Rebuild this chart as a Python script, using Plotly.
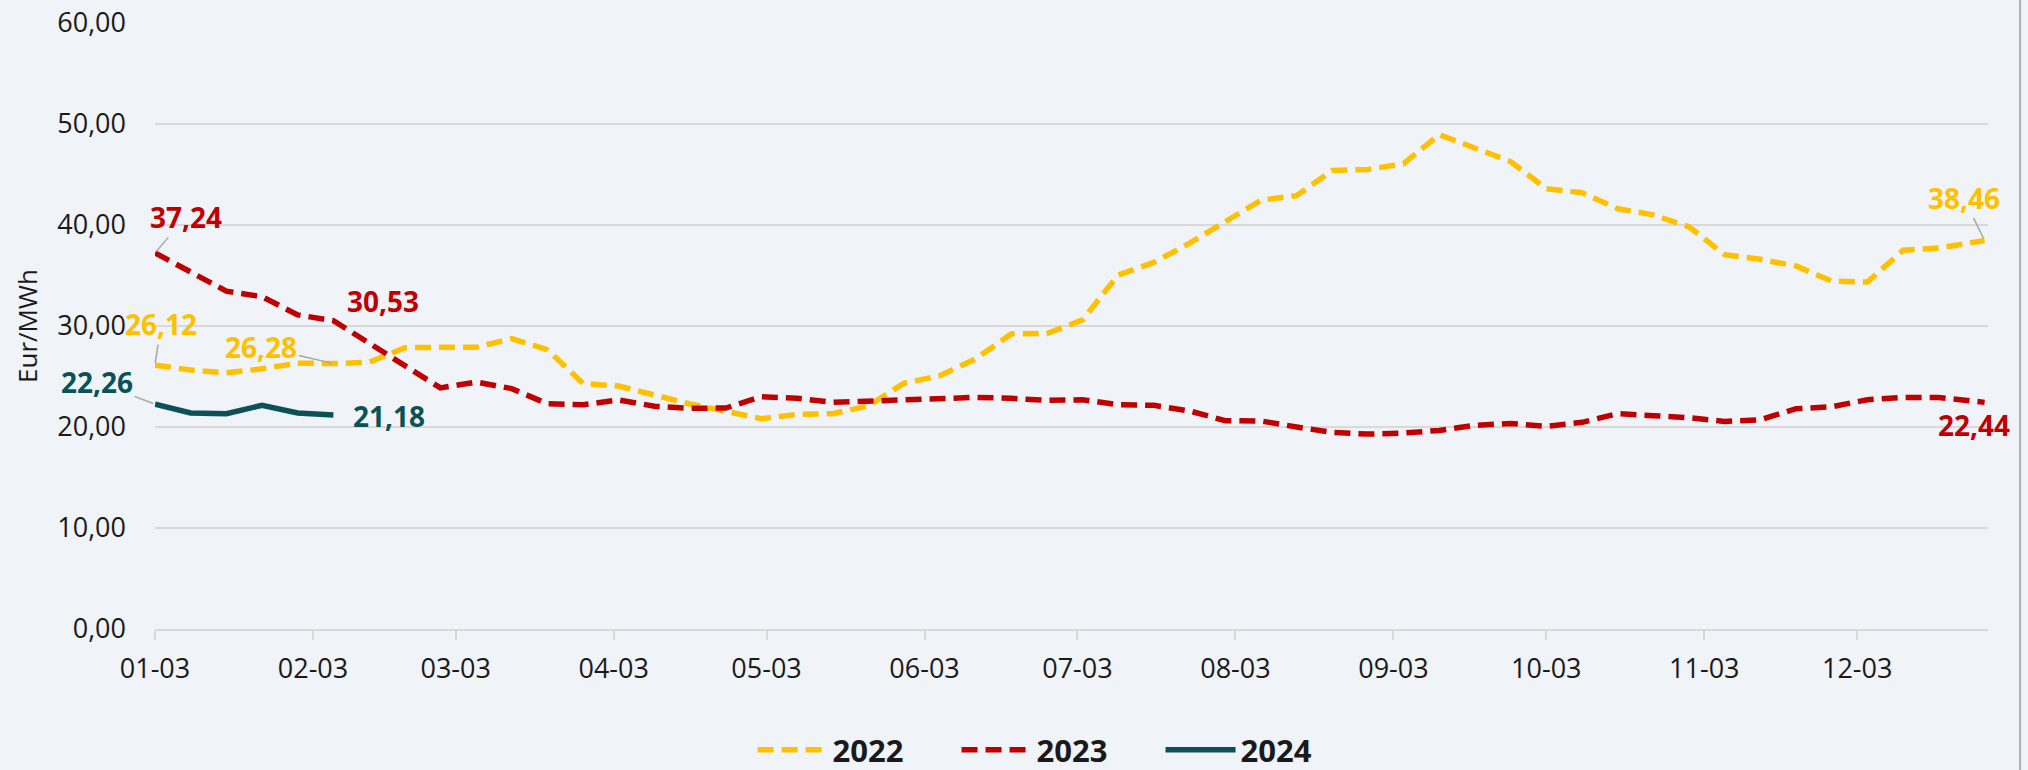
import pandas as pd
import plotly.graph_objects as go

# ---- data ----
weeks = [d.strftime("%Y-%m-%d") for d in pd.date_range("2022-01-03", periods=51, freq="7D")] + ["2022-12-28"]

y2022 = [26.12, 25.65, 25.36, 25.76, 26.32, 26.28, 26.40, 27.85, 27.89, 27.89,
         28.75, 27.66, 24.30, 24.05, 23.17, 22.28, 21.55, 20.82, 21.25, 21.32,
         22.10, 24.35, 25.08, 26.74, 29.22, 29.26, 30.60, 35.05, 36.30, 38.20,
         40.33, 42.45, 42.91, 45.40, 45.50, 46.08, 48.95, 47.64, 46.28, 43.60,
         43.20, 41.62, 41.00, 39.83, 37.06, 36.60, 35.94, 34.45, 34.35, 37.50,
         37.72, 38.46]

y2023 = [37.24, 35.34, 33.45, 32.90, 31.10, 30.53, 28.30, 26.10, 23.87, 24.45,
         23.80, 22.30, 22.20, 22.68, 22.05, 21.85, 21.88, 23.00, 22.84, 22.44,
         22.57, 22.80, 22.93, 22.93, 22.84, 22.64, 22.70, 22.20, 22.15, 21.59,
         20.63, 20.60, 20.00, 19.46, 19.30, 19.40, 19.66, 20.16, 20.35, 20.06,
         20.46, 21.32, 21.12, 20.92, 20.55, 20.72, 21.81, 22.00, 22.70, 22.93,
         22.93, 22.44]

y2024 = [22.26, 21.39, 21.32, 22.15, 21.39, 21.18]

tick_dates = ["2022-01-03", "2022-02-03", "2022-03-03", "2022-04-03", "2022-05-03", "2022-06-03",
              "2022-07-03", "2022-08-03", "2022-09-03", "2022-10-03", "2022-11-03", "2022-12-03"]
tick_labels = ["01-03", "02-03", "03-03", "04-03", "05-03", "06-03",
               "07-03", "08-03", "09-03", "10-03", "11-03", "12-03"]

C22 = "#FFC000"
C23 = "#C00000"
C24 = "#0B5157"
GRID = "#D9D9D9"
BG = "#F0F3F7"
FONT = "Open Sans"

fig = go.Figure()
fig.add_trace(go.Scatter(x=weeks, y=y2022, name="2022", mode="lines",
                         line=dict(color=C22, width=5.5, dash="16px,8px")))
fig.add_trace(go.Scatter(x=weeks, y=y2023, name="2023", mode="lines",
                         line=dict(color=C23, width=5.5, dash="16px,8px")))
fig.add_trace(go.Scatter(x=weeks[:len(y2024)], y=y2024, name="2024", mode="lines",
                         line=dict(color=C24, width=5.5)))

def lab(x, y, color, ax, ay, arrow=True):
    txt = f"{y:.2f}".replace(".", ",")
    if arrow:
        fig.add_annotation(x=x, y=y, text=txt, showarrow=True, ax=ax, ay=ay,
                           arrowhead=0, arrowwidth=1.5, arrowcolor="#A6A6A6", standoff=2,
                           font=dict(family=FONT, size=28, color=color, weight="bold"))
    else:
        fig.add_annotation(x=x, y=y, text=txt, showarrow=False, xshift=ax, yshift=-ay,
                           font=dict(family=FONT, size=28, color=color, weight="bold"))

lab(weeks[0], y2023[0], C23, 31, -36)
lab(weeks[0], y2022[0], C22, 6, -41)
lab(weeks[5], y2022[5], C22, -72, -17)
lab(weeks[5], y2023[5], C23, 50, -20, arrow=False)
lab(weeks[0], y2024[0], C24, -58, -22)
lab(weeks[5], y2024[5], C24, 56, 1, arrow=False)
lab(weeks[-1], y2022[-1], C22, -21, -43)
lab(weeks[-1], y2023[-1], C23, -11, 23, arrow=False)

fig.add_shape(type="line", xref="paper", yref="paper", x0=1.0175, x1=1.0175, y0=-0.24, y1=1.05,
              line=dict(color="#B0B0B0", width=2))

fig.update_layout(
    width=2028, height=770,
    margin=dict(l=155, r=40, t=23, b=141, autoexpand=False),
    paper_bgcolor=BG, plot_bgcolor=BG,
    separators=",.",
    font=dict(family=FONT, color="#1A1A1A"),
    showlegend=True,
    legend=dict(orientation="h", x=0.326, xanchor="left", y=-0.2, yanchor="middle",
                font=dict(family=FONT, size=31, color="#1A1A1A", weight="bold"),
                itemwidth=70, entrywidth=119, entrywidthmode="pixels",
                bgcolor="rgba(0,0,0,0)"),
    xaxis=dict(type="date", range=["2022-01-03", "2022-12-28 16:00"],
               tickvals=tick_dates, ticktext=tick_labels,
               showgrid=False, zeroline=False, automargin=False,
               showline=True, linecolor=GRID, linewidth=2,
               ticks="outside", ticklen=9, tickcolor=GRID, tickwidth=1.5,
               ticklabelstandoff=6,
               tickfont=dict(family=FONT, size=27, color="#1A1A1A")),
    yaxis=dict(range=[0, 60], tick0=0, dtick=10, tickformat=".2f", automargin=False,
               showgrid=True, gridcolor=GRID, gridwidth=2, zeroline=False,
               ticklabelstandoff=28,
               tickfont=dict(family=FONT, size=27, color="#1A1A1A"),
               title=dict(text="Eur/MWh", standoff=12,
                          font=dict(family=FONT, size=26, color="#1A1A1A"))),
)

fig.write_html("out.html", config={"displayModeBar": False},
               post_script="document.body.style.margin='0';document.body.style.overflow='hidden';")
